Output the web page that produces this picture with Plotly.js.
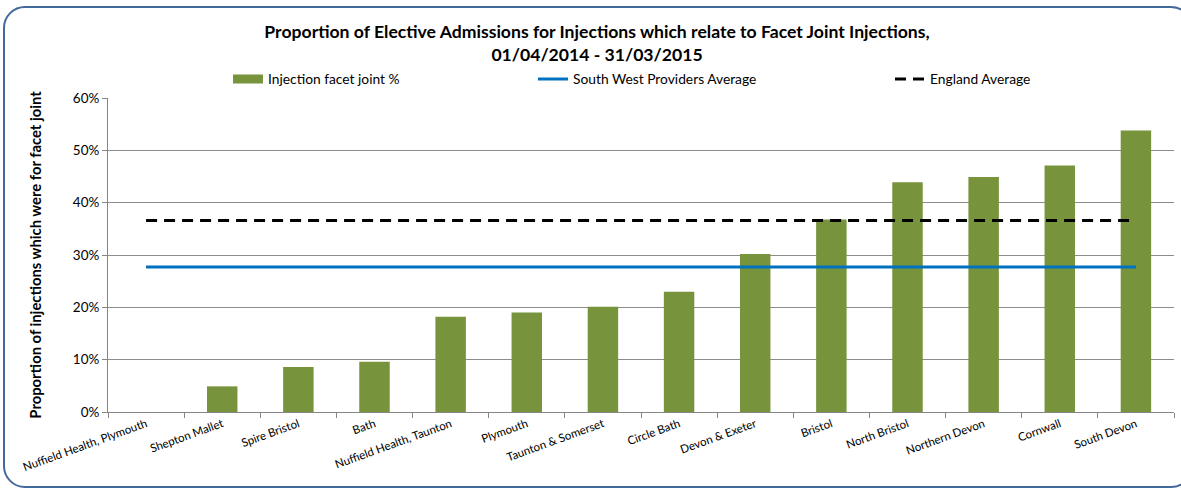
<!DOCTYPE html>
<html>
<head>
<meta charset="utf-8">
<script src="https://cdn.plot.ly/plotly-3.0.1.min.js"></script>
<style>
  html, body { margin: 0; padding: 0; background: #ffffff; }
  #wrap { position: relative; width: 1181px; height: 493px; overflow: hidden; }
  #frame { position: absolute; left: 3px; top: 6px; width: 1190px; height: 482px;
           border: 2.5px solid #43699a; border-radius: 22px; box-sizing: border-box; }
  #chart { position: absolute; left: 0; top: 0; width: 1181px; height: 493px; }
</style>
</head>
<body>
<div id="wrap">
  <div id="frame"></div>
  <div id="chart"></div>
</div>
<script>
const categories = [
  "Nuffield Health, Plymouth", "Shepton Mallet", "Spire Bristol", "Bath",
  "Nuffield Health, Taunton", "Plymouth", "Taunton & Somerset", "Circle Bath",
  "Devon & Exeter", "Bristol", "North Bristol", "Northern Devon", "Cornwall", "South Devon"
];
const facetJointPct = [0, 4.9, 8.6, 9.6, 18.2, 19.0, 20.1, 23.0, 30.2, 36.8, 43.9, 44.9, 47.1, 53.8];
const southWestAverage = 27.7;
const englandAverage = 36.6;
const yTicks = [0, 10, 20, 30, 40, 50, 60];

const FONT = "Lato, 'Liberation Sans', sans-serif";
const green = "#77933c";

const traces = [
  {
    type: "bar", x: categories, y: facetJointPct,
    marker: { color: green, line: { width: 0 } },
    width: 0.4, showlegend: false, hoverinfo: "x+y"
  },
  {
    type: "scatter", mode: "lines", x: [null], y: [null],
    name: "Injection facet joint %", line: { color: green, width: 9 },
    legend: "legend"
  },
  {
    type: "scatter", mode: "lines", x: categories, y: categories.map(() => southWestAverage),
    name: "South West Providers Average", line: { color: "#0070c0", width: 3 },
    legend: "legend2"
  },
  {
    type: "scatter", mode: "lines", x: categories, y: categories.map(() => englandAverage),
    name: "England Average", line: { color: "#000000", width: 3, dash: "11px,7px" },
    legend: "legend3"
  }
];

const legBase = { orientation: "h", xref: "container", yref: "container", yanchor: "middle",
  y: 1 - 79/493, bgcolor: "rgba(0,0,0,0)", font: { family: FONT, size: 13.8, color: "#000" },
  itemwidth: 30, tracegroupgap: 0 };

const layout = {
  width: 1181, height: 493,
  paper_bgcolor: "rgba(0,0,0,0)", plot_bgcolor: "rgba(0,0,0,0)",
  margin: { l: 108, r: 7, t: 98, b: 81 },
  font: { family: FONT, color: "#000" },
  title: {
    text: "<b>Proportion of Elective Admissions for Injections which relate to Facet Joint Injections,<br>01/04/2014 - 31/03/2015</b>",
    font: { family: FONT, size: 17.6, color: "#000" },
    x: 597/1181, xanchor: "center", xref: "container",
    y: 1 - 38/493, yanchor: "top", yref: "container"
  },
  bargap: 0.6,
  xaxis: {
    type: "category", tickangle: -20, tickson: "boundaries",
    ticks: "outside", ticklen: 5, tickcolor: "#868686",
    showline: true, linecolor: "#868686", linewidth: 1,
    showgrid: false, tickfont: { family: FONT, size: 11.5, color: "#000" }
  },
  yaxis: {
    range: [0, 60], tickvals: yTicks, ticktext: yTicks.map(v => v + "%"),
    ticks: "outside", ticklen: 5, tickcolor: "#868686",
    showline: true, linecolor: "#868686", linewidth: 1,
    showgrid: true, gridcolor: "#8c8c8c", gridwidth: 1, zeroline: false,
    tickfont: { family: FONT, size: 13.5, color: "#000" },
    title: { text: "<b>Proportion of injections which were for facet joint</b>",
      font: { family: FONT, size: 14.8, color: "#000" }, standoff: 27 }
  },
  legend: Object.assign({}, legBase, { x: 228/1181 }),
  legend2: Object.assign({}, legBase, { x: 533/1181 }),
  legend3: Object.assign({}, legBase, { x: 890/1181 }),
  showlegend: true
};

Plotly.newPlot("chart", traces, layout, { displayModeBar: false, staticPlot: true });
</script>
</body>
</html>
